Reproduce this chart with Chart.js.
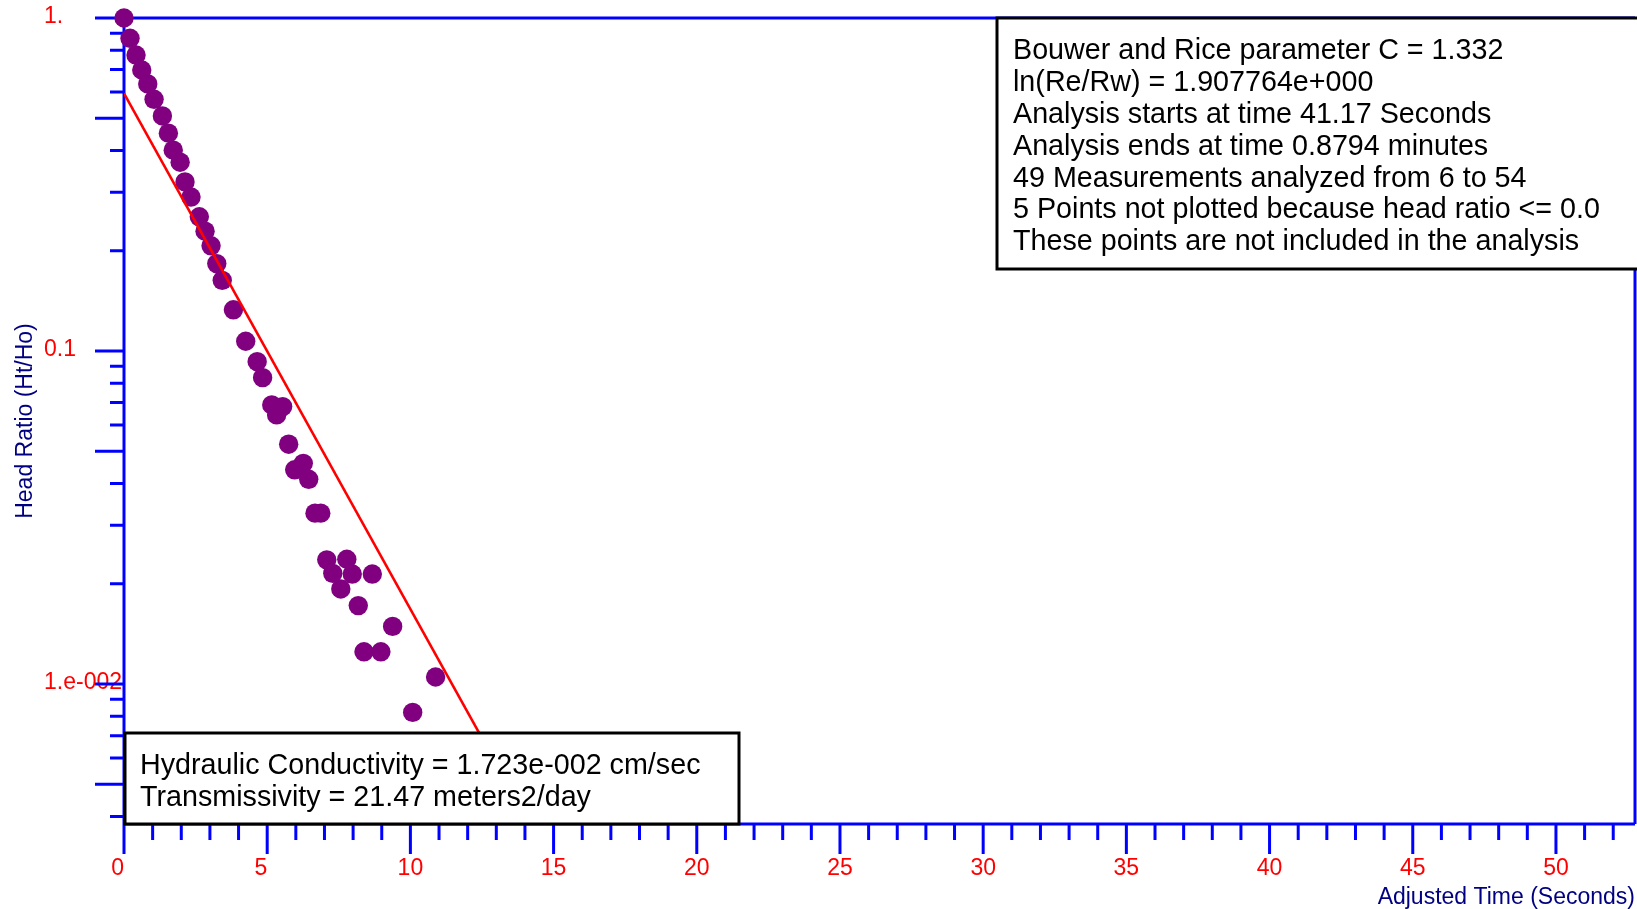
<!DOCTYPE html>
<html>
<head>
<meta charset="utf-8">
<title>Bouwer and Rice - Head Ratio</title>
<script src="https://cdn.jsdelivr.net/npm/chart.js@4/dist/chart.umd.min.js"></script>
<style>
  html, body { margin: 0; padding: 0; background: #ffffff; }
  canvas { display: block; }
</style>
</head>
<body>
<canvas id="slugTest" width="1637" height="909"></canvas>
<script>
// ---- measured data (adjusted time in seconds, head ratio Ht/Ho) ----
var timeSec = [0, 0.21, 0.42, 0.62, 0.83, 1.05, 1.34, 1.55, 1.72, 1.96,
    2.13, 2.34, 2.63, 2.83, 3.04, 3.24, 3.43, 3.82, 4.25, 4.65,
    4.84, 5.16, 5.33, 5.54, 5.75, 5.96, 6.26, 6.45, 6.67, 6.87,
    7.08, 7.29, 7.57, 7.78, 7.97, 8.18, 8.38, 8.67, 8.97, 9.38,
    10.08, 10.88];
var headRatio = [1.0, 0.869, 0.774, 0.698, 0.634, 0.570, 0.508, 0.451, 0.401, 0.369,
    0.322, 0.290, 0.253, 0.229, 0.207, 0.183, 0.163, 0.133, 0.107, 0.0929,
    0.0832, 0.0689, 0.0643, 0.0681, 0.0525, 0.0440, 0.0460, 0.0412, 0.0326, 0.0326,
    0.0236, 0.0215, 0.0193, 0.0237, 0.0214, 0.0172, 0.0125, 0.0214, 0.0125, 0.0149,
    0.00822, 0.0105];

// ---- straight line fit (end points) ----
var fitTime = [0, 13.5];
var fitRatio = [0.594, 0.00482];

// ---- axis ticks ----
var xTickVals = [0, 5, 10, 15, 20, 25, 30, 35, 40, 45, 50];
var yTickVals = [1, 0.1, 0.01];
var yTickText = ['1.', '0.1', '1.e-002'];

// ---- annotation text ----
var infoLines = [
    'Bouwer and Rice parameter C = 1.332',
    'ln(Re/Rw) = 1.907764e+000',
    'Analysis starts at time 41.17 Seconds',
    'Analysis ends at time 0.8794 minutes',
    '49 Measurements analyzed from 6 to 54',
    '5 Points not plotted because head ratio <= 0.0',
    'These points are not included in the analysis'
];
var resultLines = [
    'Hydraulic Conductivity = 1.723e-002 cm/sec',
    'Transmissivity = 21.47 meters2/day'
];

var FONT = '"Liberation Sans", Arial, sans-serif';
var BLUE = '#0000ff';
var NAVY = '#000080';

function toPoints(xs, ys) {
    return xs.map(function (x, i) { return { x: x, y: ys[i] }; });
}

// no extra room around the scales, the layout padding sets the plot box
function noScalePadding(scale) {
    scale.paddingLeft = 0;
    scale.paddingRight = 0;
    scale.paddingTop = 0;
    scale.paddingBottom = 0;
}

// blue frame with the long and short tick marks
var axisFrame = {
    id: 'axisFrame',
    beforeDatasetsDraw: function (chart) {
        var ctx = chart.ctx, a = chart.chartArea;
        var xs = chart.scales.x, ys = chart.scales.y;
        ctx.save();
        ctx.strokeStyle = BLUE;
        ctx.lineWidth = 3;
        ctx.beginPath();
        ctx.moveTo(a.left - 29, a.top); ctx.lineTo(a.right, a.top);
        ctx.moveTo(a.right, a.top); ctx.lineTo(a.right, a.bottom);
        ctx.moveTo(a.left, a.bottom); ctx.lineTo(a.right, a.bottom);
        ctx.moveTo(a.left, a.top); ctx.lineTo(a.left, a.bottom);

        // log ticks: long at 1 and 5 of each decade
        [1, 0.1, 0.01, 0.001].forEach(function (dec) {
            for (var m = 1; m <= 9; m++) {
                var v = m * dec;
                if (v < ys.min || v > ys.max) continue;
                var py = ys.getPixelForValue(v);
                var len = (m === 1 || m === 5) ? 29 : 14;
                ctx.moveTo(a.left - len, py); ctx.lineTo(a.left, py);
            }
        });

        for (var s = 0; s <= xs.max; s++) {
            var px = xs.getPixelForValue(s);
            var tl = (s % 5 === 0) ? 30 : 16;
            ctx.moveTo(px, a.bottom); ctx.lineTo(px, a.bottom + tl);
        }
        ctx.stroke();
        ctx.restore();
    },
    afterDraw: function (chart) {
        var ctx = chart.ctx, a = chart.chartArea;
        ctx.save();

        // y axis title
        ctx.fillStyle = NAVY;
        ctx.font = '23px ' + FONT;
        ctx.textAlign = 'center';
        ctx.textBaseline = 'middle';
        ctx.translate(26, (a.top + a.bottom) / 2);
        ctx.rotate(-Math.PI / 2);
        ctx.fillText('Head Ratio (Ht/Ho)', 0, 0);
        ctx.setTransform(1, 0, 0, 1, 0, 0);

        // text boxes
        function textBox(x, y, w, h, lines, tx, ty, step) {
            ctx.fillStyle = '#ffffff';
            ctx.fillRect(x, y, w, h);
            ctx.strokeStyle = '#000000';
            ctx.lineWidth = 3;
            ctx.strokeRect(x, y, w, h);
            ctx.fillStyle = '#000000';
            ctx.font = '28.7px ' + FONT;
            ctx.textAlign = 'left';
            ctx.textBaseline = 'middle';
            lines.forEach(function (t, i) { ctx.fillText(t, tx, ty + i * step); });
        }
        textBox(997, a.top, 645, 251, infoLines, 1013, 51, 31.9);
        textBox(a.left + 1, 733, 614, a.bottom - 733, resultLines, 140, 766, 31.7);
        ctx.restore();
    }
};

var ctx = document.getElementById('slugTest').getContext('2d');
var chart = new Chart(ctx, {
    type: 'scatter',
    data: {
        datasets: [{
            // fitted line, drawn above the points
            type: 'line',
            data: toPoints(fitTime, fitRatio),
            borderColor: '#ff0000',
            borderWidth: 2.6,
            pointRadius: 0,
            fill: false
        }, {
            data: toPoints(timeSec, headRatio),
            backgroundColor: '#800080',
            borderWidth: 0,
            pointRadius: 9.7,
            clip: false
        }]
    },
    plugins: [axisFrame],
    options: {
        responsive: false,
        animation: false,
        layout: {
            autoPadding: false,
            padding: { top: 18, right: 2, left: 44, bottom: 0 }
        },
        plugins: {
            legend: { display: false },
            tooltip: { enabled: false }
        },
        scales: {
            x: {
                type: 'linear',
                min: 0,
                max: 52.76,
                grid: { display: false, drawTicks: false },
                border: { display: false },
                afterBuildTicks: function (scale) {
                    scale.ticks = xTickVals.map(function (v) { return { value: v }; });
                },
                afterFit: function (scale) {
                    scale.height = 85;
                    noScalePadding(scale);
                },
                ticks: {
                    color: '#ff0000',
                    font: { family: FONT, size: 23 },
                    padding: 31,
                    autoSkip: false,
                    maxRotation: 0,
                    // single digits sit a little left of their tick
                    callback: function (value) {
                        return value < 10 ? value + '\u2007' : String(value);
                    }
                },
                title: {
                    display: true,
                    text: 'Adjusted Time (Seconds)',
                    align: 'end',
                    color: NAVY,
                    font: { family: FONT, size: 23 },
                    padding: { top: 0, bottom: -2 }
                }
            },
            y: {
                type: 'logarithmic',
                min: 0.0038,
                max: 1,
                grid: { display: false, drawTicks: false },
                border: { display: false },
                afterBuildTicks: function (scale) {
                    scale.ticks = yTickVals.map(function (v) { return { value: v }; });
                },
                afterFit: function (scale) {
                    scale.width = 80;
                    noScalePadding(scale);
                },
                ticks: {
                    color: '#ff0000',
                    font: { family: FONT, size: 23 },
                    crossAlign: 'far',
                    labelOffset: -1,
                    callback: function (value) {
                        return yTickText[yTickVals.indexOf(value)];
                    }
                }
            }
        }
    }
});
</script>
</body>
</html>
